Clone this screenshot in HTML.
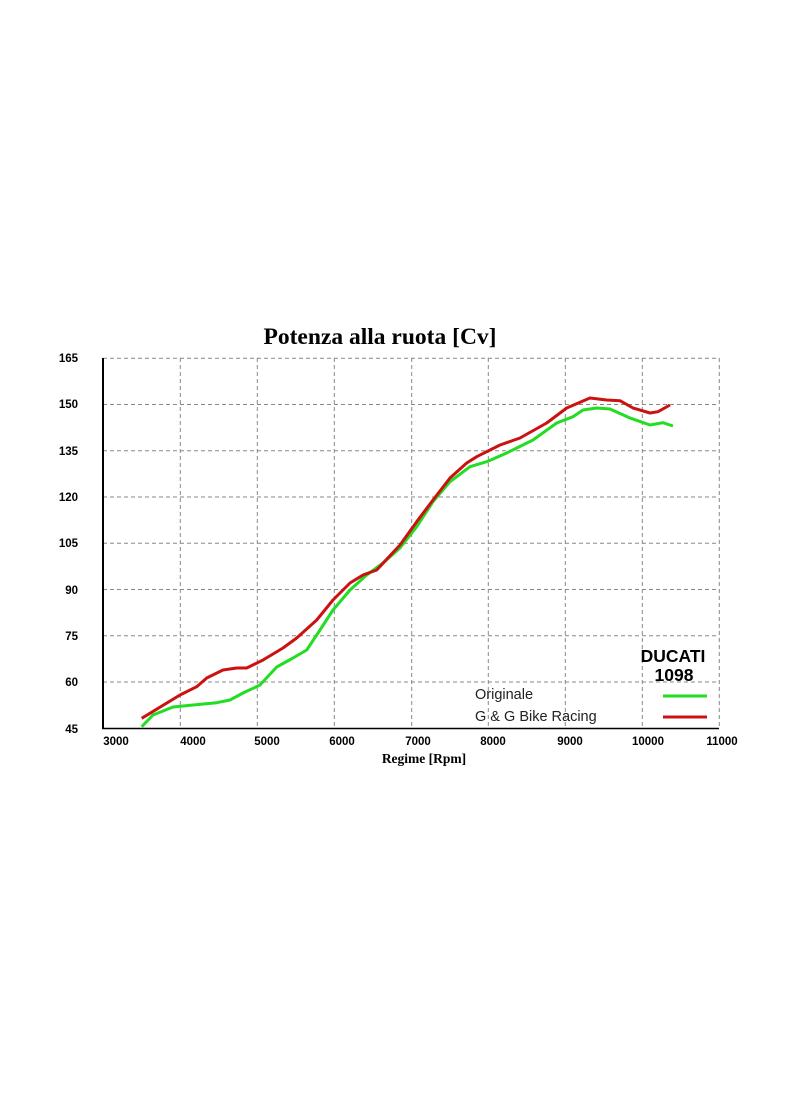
<!DOCTYPE html>
<html><head><style>body{margin:0;background:#fff}svg{display:block}</style></head><body>
<svg width="800" height="1096" xmlns="http://www.w3.org/2000/svg">
<rect width="800" height="1096" fill="#fff"/>
<text x="380" y="344" font-family="Liberation Serif, serif" font-weight="bold" font-size="23.5" text-anchor="middle" fill="#000">Potenza alla ruota [Cv]</text>
<g stroke="#888" stroke-width="1" stroke-dasharray="4,3" fill="none">
<line x1="103" y1="358.3" x2="719" y2="358.3"/><line x1="103" y1="404.5" x2="719" y2="404.5"/><line x1="103" y1="450.8" x2="719" y2="450.8"/><line x1="103" y1="497" x2="719" y2="497"/><line x1="103" y1="543.3" x2="719" y2="543.3"/><line x1="103" y1="589.5" x2="719" y2="589.5"/><line x1="103" y1="635.8" x2="719" y2="635.8"/><line x1="103" y1="682" x2="719" y2="682"/>
<line x1="180.3" y1="358" x2="180.3" y2="728"/><line x1="257.3" y1="358" x2="257.3" y2="728"/><line x1="334.3" y1="358" x2="334.3" y2="728"/><line x1="411.7" y1="358" x2="411.7" y2="728"/><line x1="488.3" y1="358" x2="488.3" y2="728"/><line x1="565.3" y1="358" x2="565.3" y2="728"/><line x1="642.3" y1="358" x2="642.3" y2="728"/><line x1="719.3" y1="358" x2="719.3" y2="728"/>
</g>
<line x1="103" y1="358" x2="103" y2="729" stroke="#000" stroke-width="2"/>
<line x1="102" y1="728.5" x2="719" y2="728.5" stroke="#000" stroke-width="1.5"/>
<g font-family="Liberation Sans, sans-serif" font-weight="bold" font-size="11.5" fill="#000" text-anchor="end">
<text x="78" y="362">165</text><text x="78" y="408">150</text><text x="78" y="455">135</text><text x="78" y="501">120</text><text x="78" y="547">105</text><text x="78" y="594">90</text><text x="78" y="640">75</text><text x="78" y="686">60</text><text x="78" y="733">45</text>
</g>
<g font-family="Liberation Sans, sans-serif" font-weight="bold" font-size="11.5" fill="#000" text-anchor="middle">
<text x="116" y="745">3000</text><text x="193" y="745">4000</text><text x="267" y="745">5000</text><text x="342" y="745">6000</text><text x="418" y="745">7000</text><text x="493" y="745">8000</text><text x="570" y="745">9000</text><text x="648" y="745">10000</text><text x="722" y="745">11000</text>
</g>
<text x="424" y="763" font-family="Liberation Serif, serif" font-weight="bold" font-size="13.5" text-anchor="middle">Regime [Rpm]</text>
<polyline fill="none" stroke="#22dd22" stroke-width="3" stroke-linejoin="round" points="141.7,726.7 153,715 173,707 193,705 216.7,702.7 230,700 243,693 260,685 276.7,667 293,658 306.7,650 320,630 333,610 350,590 366.7,575 383,563 400,548 416.7,526.7 433,501.7 450,481.7 470,466.7 486.7,461.7 506.7,453 533,440 556.7,423 573,416.7 583,410 596.7,408 610,409 630,418 650,425 663,422.7 673,426"/>
<polyline fill="none" stroke="#cc1111" stroke-width="3" stroke-linejoin="round" points="141.7,718.3 180,695 196.7,686.7 206.7,678 223,670 236.7,668 246.7,668 263,660 283,648 296.7,638 316.7,620 333,600 350,583 363,575 376.7,570 400,545 416.7,521.7 433,500 450,478 466.7,463 476.7,456.7 500,445 520,438 546.7,423 566.7,408 590,398 606.7,400 620,400.7 633,408 650,413 658,411.7 670,405"/>
<text x="673" y="662" font-family="Liberation Sans, sans-serif" font-weight="bold" font-size="17.5" text-anchor="middle">DUCATI</text>
<text x="674" y="681" font-family="Liberation Sans, sans-serif" font-weight="bold" font-size="17.5" text-anchor="middle">1098</text>
<text x="475" y="699" font-family="Liberation Sans, sans-serif" font-size="14.5" fill="#222">Originale</text>
<text x="475" y="721" font-family="Liberation Sans, sans-serif" font-size="14.5" fill="#222">G &amp; G Bike Racing</text>
<line x1="663" y1="696" x2="707" y2="696" stroke="#22dd22" stroke-width="3"/>
<line x1="663" y1="717" x2="707" y2="717" stroke="#cc1111" stroke-width="3"/>
</svg>
</body></html>
